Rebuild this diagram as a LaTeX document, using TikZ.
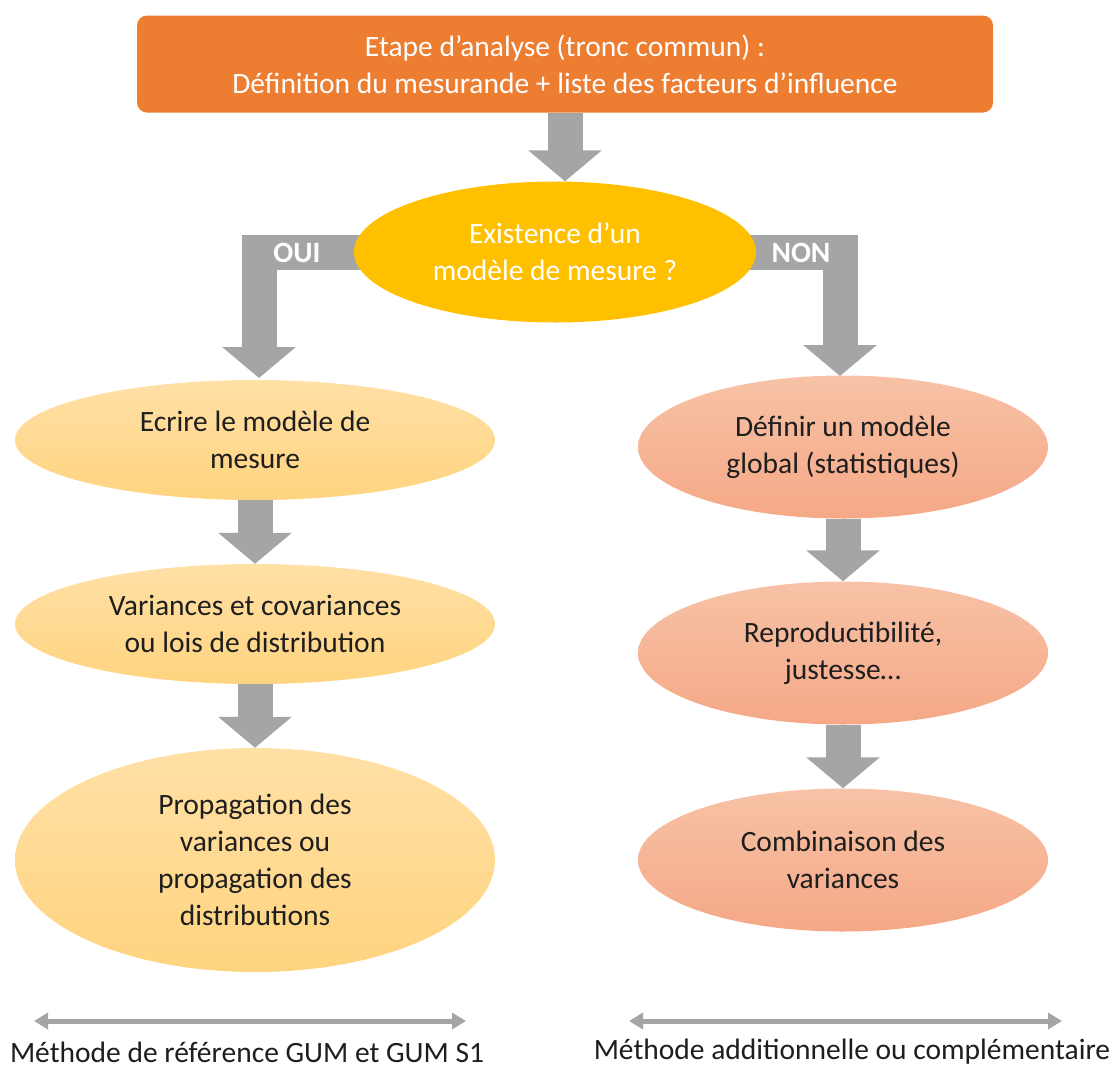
\documentclass[tikz,border=0pt]{standalone}
\usepackage{fontspec}
\setmainfont{Carlito}
\usetikzlibrary{shapes.geometric, arrows.meta}

\definecolor{topbox}{HTML}{ED7D31}
\definecolor{decision}{HTML}{FFC000}
\definecolor{arrowgray}{HTML}{A5A5A5}
\definecolor{yeltop}{HTML}{FFE0A6}
\definecolor{yelbot}{HTML}{FFD47F}
\definecolor{saltop}{HTML}{F7C2A6}
\definecolor{salbot}{HTML}{F5A886}
\definecolor{textdark}{HTML}{1E1E1E}

\tikzset{
  bigtext/.style={font=\fontsize{29.5}{37}\selectfont, align=center},
  yelnode/.style={bigtext, ellipse, inner sep=0pt, minimum width=480pt,
    top color=yeltop, bottom color=yelbot, text=textdark},
  salnode/.style={bigtext, ellipse, inner sep=0pt, minimum width=410pt,
    minimum height=143pt, top color=saltop, bottom color=salbot, text=textdark},
  blockarrow/.style={arrowgray, line width=35pt, line join=miter,
    -{Triangle[length=31pt, width=72pt]}},
  spanarrow/.style={arrowgray, line width=5pt,
    {Triangle[length=14pt, width=16pt]}-{Triangle[length=14pt, width=16pt]}}
}

\begin{document}
\begin{tikzpicture}[x=1pt, y=-1pt]
    \useasboundingbox (0,0) rectangle (1120,1069);

    %% analysis step and question
    \node[bigtext, rectangle, rounded corners=10pt, fill=topbox, text=white,
      minimum width=856pt, minimum height=97pt, inner sep=0pt]
      (top) at (565,64) {Etape d’analyse (tronc commun) :\\
      Définition du mesurande + liste des facteurs d’influence};
    \coordinate (decpos) at (555,252);

    %% yes / no branches (drawn under the question)
    \draw[blockarrow] (decpos) -| (259,378);
    \draw[blockarrow] (decpos) -| (840,376);

    \node[bigtext, ellipse, fill=decision, text=white, inner sep=0pt,
      minimum width=402pt, minimum height=141pt]
      (dec) at (decpos) {Existence d’un\\ modèle de mesure ?};
    \draw[blockarrow] (top.south) -- (top.south |- dec.north);

    \node[bigtext, text=white, font=\fontsize{29.5}{37}\selectfont\bfseries]
      (oui) at (297,253) {OUI};
    \node[bigtext, text=white, font=\fontsize{29.5}{37}\selectfont\bfseries]
      (non) at (801,253) {NON};

    %% left column
    \node[yelnode, minimum height=120pt] (ecrire) at (255,440)
      {Ecrire le modèle de\\ mesure};
    \node[yelnode, minimum height=120pt] (variances) at (255,624)
      {Variances et covariances\\ ou lois de distribution};
    \node[yelnode, minimum height=224pt] (propagation) at (255,860)
      {Propagation des\\ variances ou\\ propagation des\\ distributions};
    \draw[blockarrow] (ecrire.south) -- (variances.north);
    \draw[blockarrow] (variances.south) -- (propagation.north);

    %% right column
    \node[salnode] (definir) at (843,447)
      {Définir un modèle\\ global (statistiques)};
    \node[salnode] (reproduc) at (843,653)
      {Reproductibilité,\\ justesse…};
    \node[salnode] (combin) at (843,860)
      {Combinaison des\\ variances};
    \draw[blockarrow] (definir.south) -- (reproduc.north);
    \draw[blockarrow] (reproduc.south) -- (combin.north);

    %% methods
    \coordinate (gumA) at (34,1021);
    \coordinate (gumB) at (466,1021);
    \coordinate (addA) at (629,1021);
    \coordinate (addB) at (1062,1021);
    \draw[spanarrow] (gumA) -- (gumB);
    \draw[spanarrow] (addA) -- (addB);
    \node[bigtext, text=textdark] (gumlabel) at (247,1052)
      {Méthode de référence GUM et GUM S1};
    \node[bigtext, text=textdark] (addlabel) at (852,1052)
      {Méthode additionnelle ou complémentaire};
  \end{tikzpicture}
\end{document}
